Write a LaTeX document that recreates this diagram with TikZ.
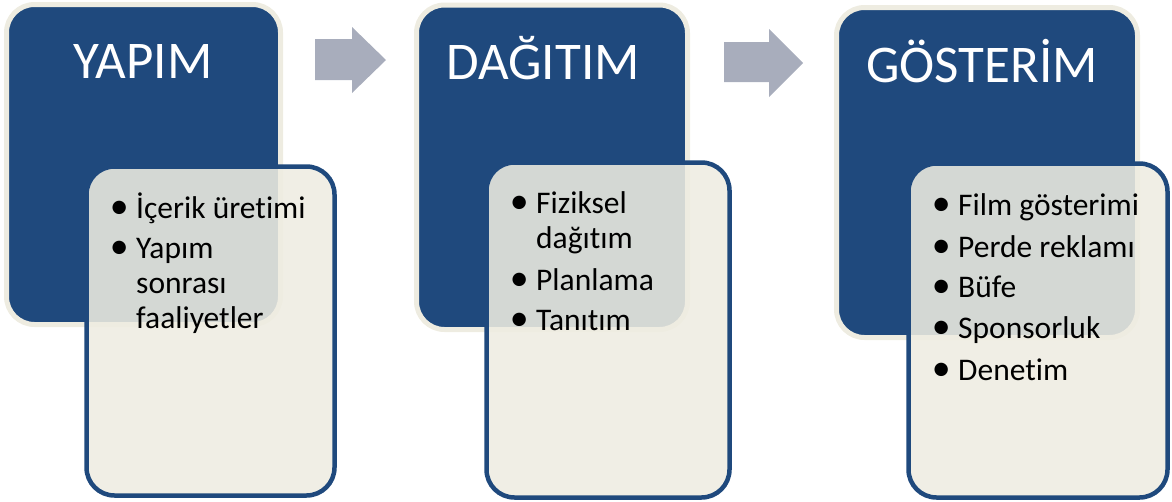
\documentclass[tikz,border=0pt]{standalone}
\usepackage{fontspec}
\setmainfont{Carlito}[Ligatures=NoCommon]
\definecolor{dblue}{RGB}{31,73,125}
\definecolor{cream}{RGB}{238,236,225}
\definecolor{arrowgray}{RGB}{168,173,188}
\newcommand\bul{\makebox[0pt][r]{\makebox[34pt][c]{\raisebox{-0.6pt}{\scalebox{1.2}{•}}}}}
\begin{document}
\begin{tikzpicture}[x=1pt,y=-1pt,
  darkbox/.style={rectangle, fill=dblue, draw=cream, line width=5pt, rounded corners=28pt, inner sep=0pt},
  lightbox/.style={rectangle, fill=cream, fill opacity=0.88, draw=dblue, line width=4.5pt, rounded corners=28pt, inner sep=0pt},
  title/.style={anchor=base, inner sep=0pt, text=white, font=\fontsize{53}{60}\selectfont},
  item/.style={anchor=base west, inner sep=0pt, text=black, font=\fontsize{31.5}{35}\selectfont},
  blockarrow/.style={fill=arrowgray, draw=none}]
\useasboundingbox (0,0) rectangle (1172,501);

% stage 1
\node[darkbox, minimum width=274pt, minimum height=320pt] (d1) at (143.5,164.5) {};
\node[title] (t1) at (143,78) {YAPIM};
\node[lightbox, minimum width=248pt, minimum height=329pt] (l1) at (210.5,331) {};
\node[item] (i11) at (136,218) {\bul İçerik üretimi};
\node[item] (i12) at (136,258) {\bul Yapım};
\node[item] (i12b) at (136,293) {sonrası};
\node[item] (i12c) at (136,328) {faaliyetler};

% arrow 1
\fill[blockarrow] (315,39) -- (352,39) -- (352,27) -- (386,60) -- (352,93) -- (352,80) -- (315,80) -- cycle;

% stage 2
\node[darkbox, minimum width=271pt, minimum height=324.5pt] (d2) at (552,167.25) {};
\node[title] (t2) at (543,79) {DAĞITIM};
\node[lightbox, minimum width=243pt, minimum height=335pt] (l2) at (608,330) {};
\node[item] (i21) at (536,213) {\bul Fiziksel};
\node[item] (i21b) at (536,248) {dağıtım};
\node[item] (i22) at (536,290) {\bul Planlama};
\node[item] (i23) at (536,330) {\bul Tanıtım};

% arrow 2
\fill[blockarrow] (724,42) -- (769,42) -- (769,29) -- (803,63) -- (769,97) -- (769,82) -- (724,82) -- cycle;

% stage 3
\node[darkbox, minimum width=301pt, minimum height=330pt] (d3) at (987,172.5) {};
\node[title] (t3) at (982,82) {GÖSTERİM};
\node[lightbox, minimum width=259pt, minimum height=334pt] (l3) at (1038,330.5) {};
\node[item] (i31) at (958,215) {\bul Film gösterimi};
\node[item] (i32) at (958,257) {\bul Perde reklamı};
\node[item] (i33) at (958,297) {\bul Büfe};
\node[item] (i34) at (958,338) {\bul Sponsorluk};
\node[item] (i35) at (958,380) {\bul Denetim};
\end{tikzpicture}
\end{document}
